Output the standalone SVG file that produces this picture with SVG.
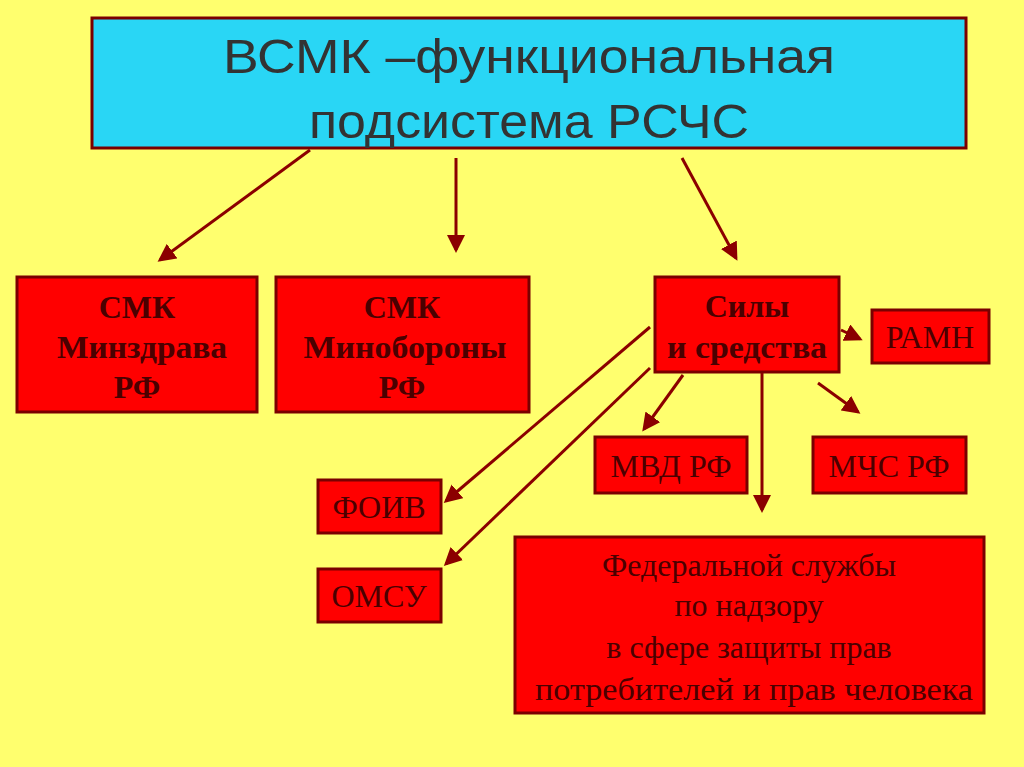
<svg xmlns="http://www.w3.org/2000/svg" width="1024" height="767" viewBox="0 0 1024 767">
<defs>
<marker id="ah" markerWidth="6" markerHeight="6" refX="5" refY="3" orient="auto" markerUnits="strokeWidth"><path d="M0,0 L6,3 L0,6 z" fill="#8B0000"/></marker>
<style>
.b{fill:#FF0000;stroke:#7a0000;stroke-width:3}
.t{font-family:"Liberation Serif",serif;font-size:32px;fill:#4a0000;text-anchor:middle}
.bd{font-weight:bold}
.c line{stroke:#8B0000;stroke-width:3;marker-end:url(#ah)}
</style>
</defs>
<rect width="1024" height="767" fill="#FFFF6E"/>
<g id="top"><rect x="92" y="18" width="874" height="130" fill="#29D6F5" stroke="#7a0000" stroke-width="3"/>
<text x="529" y="73" font-family="Liberation Sans,sans-serif" font-size="48" fill="#333" text-anchor="middle" textLength="612" lengthAdjust="spacingAndGlyphs">ВСМК –функциональная</text>
<text x="529" y="138" font-family="Liberation Sans,sans-serif" font-size="48" fill="#333" text-anchor="middle" textLength="440" lengthAdjust="spacingAndGlyphs">подсистема РСЧС</text></g>
<g id="n1"><rect class="b" x="17" y="277" width="240" height="135"/>
<text class="t bd" x="137" y="318">СМК</text><text class="t bd" x="142" y="358" textLength="170" lengthAdjust="spacingAndGlyphs">Минздрава</text><text class="t bd" x="137" y="398">РФ</text></g>
<g id="n2"><rect class="b" x="276" y="277" width="253" height="135"/>
<text class="t bd" x="402" y="318">СМК</text><text class="t bd" x="405" y="358" textLength="203" lengthAdjust="spacingAndGlyphs">Минобороны</text><text class="t bd" x="402" y="398">РФ</text></g>
<g id="n3"><rect class="b" x="655" y="277" width="184" height="95"/>
<text class="t bd" x="747" y="317">Силы</text><text class="t bd" x="747" y="358" textLength="160" lengthAdjust="spacingAndGlyphs">и средства</text></g>
<g id="n4"><rect class="b" x="872" y="310" width="117" height="53"/><text class="t" x="930" y="348">РАМН</text></g>
<g id="n5"><rect class="b" x="595" y="437" width="152" height="56"/><text class="t" x="671" y="477">МВД РФ</text></g>
<g id="n6"><rect class="b" x="813" y="437" width="153" height="56"/><text class="t" x="889" y="477">МЧС РФ</text></g>
<g id="n7"><rect class="b" x="318" y="480" width="123" height="53"/><text class="t" x="379" y="518">ФОИВ</text></g>
<g id="n8"><rect class="b" x="318" y="569" width="123" height="53"/><text class="t" x="379" y="607">ОМСУ</text></g>
<g id="n9"><rect class="b" x="515" y="537" width="469" height="176"/>
<text class="t" x="749" y="576">Федеральной службы</text><text class="t" x="749" y="616">по надзору</text><text class="t" x="749" y="658">в сфере защиты прав</text><text class="t" x="754" y="700" textLength="438" lengthAdjust="spacingAndGlyphs">потребителей и прав человека</text></g>
<g class="c" id="connectors">
<line x1="310" y1="150" x2="160" y2="260"/>
<line x1="456" y1="158" x2="456" y2="250"/>
<line x1="682" y1="158" x2="736" y2="258"/>
<line x1="841" y1="330" x2="860" y2="339"/>
<line x1="650" y1="327" x2="446" y2="501"/>
<line x1="650" y1="368" x2="446" y2="564"/>
<line x1="683" y1="375" x2="644" y2="429"/>
<line x1="762" y1="373" x2="762" y2="510"/>
<line x1="818" y1="383" x2="858" y2="412"/>
</g>
</svg>
